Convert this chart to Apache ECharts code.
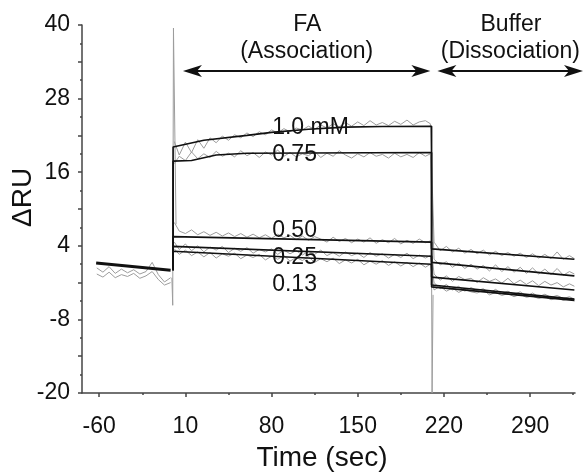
<!DOCTYPE html>
<html>
<head>
<meta charset="utf-8">
<script src="https://cdn.jsdelivr.net/npm/echarts@6/dist/echarts.min.js"></script>
<style>
  html, body { margin: 0; padding: 0; background: #fff; }
  #chart { width: 584px; height: 472px; }
</style>
</head>
<body>
<div id="chart"></div>
<script>
// ticks
var xLabelTicks = [-60, 10, 80, 150, 220, 290]
var xMinorTicks = [-25, 45, 115, 185, 255, 325]
var yLabelTicks = [-20, -8, 4, 16, 28, 40, -14, -2, 10, 22, 34]
var yLabelValues = [-20, -8, 4, 16, 28, 40]
var yMinorTicks = [-17, -11, -5, 1, 7, 13, 19, 25, 31, 37]

// sample times (sec)
var baseT = [-62, -57, -52, -47, -42, -37, -32, -27, -22, -17, -12, -7, -2]
var assocT = [1, 5, 10, 15, 20, 25, 30, 35, 40, 45, 50, 55, 60, 65, 70, 75, 80, 85, 90, 95, 100,
  105, 110, 115, 120, 125, 130, 135, 140, 145, 150, 155, 160, 165, 170, 175, 180, 185, 190, 195, 200, 205, 209]
var dissocT = [212, 217, 222, 227, 232, 237, 242, 247, 252, 257, 262, 267, 272, 277, 282, 287, 292, 297,
  302, 307, 312, 317, 322, 326]

// raw sensorgram (gray)
var baseRawA = [0.4, -0.3, 0.6, -0.5, 0.2, -0.4, 0.1, -0.6, -0.2, 1.3, -0.7, -1.9, -1.2]
var baseRawB = [-0.6, -1.1, -0.3, -1.2, -0.7, -1.0, -0.5, -1.3, -0.9, -0.2, -1.5, -2.4, -2.0]

var raw10A = [21.0, 18.8, 20.9, 19.2, 21.3, 19.9, 21.6, 20.8, 21.9, 21.2, 22.1, 21.6, 22.4, 21.8, 22.6, 22.1,
  22.9, 22.4, 23.1, 22.6, 23.2, 22.9, 23.5, 23.0, 23.7, 23.2, 23.9, 23.4, 24.1, 23.5, 24.2, 23.6, 24.4, 23.7,
  24.1, 23.6, 24.3, 23.8, 24.5, 23.7, 24.2, 24.4, 23.9]
var raw75A = [17.4, 18.6, 17.9, 19.3, 18.2, 19.0, 18.4, 19.4, 18.6, 19.1, 18.5, 19.5, 18.7, 19.2, 18.4, 19.3,
  18.8, 19.6, 18.6, 19.2, 18.5, 19.0, 18.7, 19.4, 18.4, 19.1, 18.6, 19.5, 18.8, 18.3, 19.0, 18.5, 19.2, 18.6,
  18.9, 18.3, 19.1, 18.5, 18.9, 18.4, 19.2, 18.6, 19.0]
var raw50A = [7.8, 6.4, 6.0, 6.6, 5.8, 6.3, 5.7, 6.2, 5.6, 6.1, 5.5, 6.0, 5.4, 5.9, 5.3, 5.8, 5.2, 5.9, 5.3,
  5.7, 5.0, 5.6, 4.9, 5.5, 5.1, 4.6, 5.4, 4.7, 5.2, 4.5, 5.1, 4.6, 5.3, 4.4, 5.0, 4.5, 5.2, 4.3, 4.9, 4.4,
  5.1, 4.5, 4.8]
var raw25A = [4.6, 3.4, 4.3, 3.2, 4.0, 3.0, 3.8, 3.3, 3.9, 2.9, 3.6, 3.1, 3.7, 2.8, 3.4, 3.0, 3.5, 2.6, 3.3,
  2.7, 3.2, 2.5, 3.1, 2.6, 3.3, 2.4, 2.9, 2.3, 3.0, 2.4, 2.8, 2.1, 2.9, 2.3, 2.7, 2.0, 2.6, 2.1, 2.8, 1.9,
  2.5, 2.0, 2.4]
var raw13A = [3.5, 2.6, 3.3, 2.4, 3.0, 2.2, 2.9, 2.0, 2.7, 2.3, 2.8, 1.9, 2.5, 2.1, 2.6, 1.7, 2.3, 1.8, 2.4,
  1.5, 2.1, 1.6, 2.2, 1.3, 1.9, 1.4, 2.0, 1.1, 1.7, 1.2, 1.8, 0.9, 1.5, 1.0, 1.6, 0.8, 1.4, 0.7, 1.3, 0.6,
  1.2, 0.5, 1.0]

var raw10D = [4.6, 3.2, 3.9, 3.0, 3.6, 2.8, 3.4, 2.7, 3.3, 2.5, 3.1, 2.4, 2.9, 2.3, 2.8, 2.1, 2.7, 2.0, 2.6,
  1.9, 3.0, 1.8, 2.4, 1.9]
var raw75D = [1.8, 0.9, 1.4, 0.5, 1.2, 0.3, 1.0, 0.2, 0.8, -0.1, 0.9, -0.2, 0.6, -0.3, 0.5, -0.5, 0.4, -0.6,
  0.2, -0.7, 0.3, -0.8, -0.2, -0.6]
var raw50D = [-0.6, -1.6, -0.9, -1.8, -1.0, -1.5, -1.3, -2.0, -1.2, -1.8, -1.4, -2.1, -1.3, -2.2, -1.6, -2.3,
  -1.7, -2.5, -1.8, -2.4, -2.0, -2.7, -2.2, -2.6]
var raw25D = [-2.0, -3.0, -2.3, -3.2, -2.6, -3.4, -2.8, -3.3, -3.0, -3.7, -3.1, -3.8, -3.4, -3.9, -3.5, -4.2,
  -3.7, -4.3, -3.9, -4.4, -4.1, -4.6, -4.3, -4.7]
var raw13D = [-3.2, -2.6, -3.4, -2.9, -3.6, -3.1, -3.5, -3.7, -3.2, -4.0, -3.6, -4.1, -3.8, -4.3, -3.9, -4.4,
  -4.2, -4.6, -4.3, -4.8, -4.5, -4.9, -4.6, -5.0]

// injection / buffer switch spikes
var injSpike = [[-1, -1.2], [-0.3, -5.7], [0.3, 39.5], [1.8, 39.2], [2.4, 7.5]]
var offSpike = [[209.6, 19.0], [210.4, -20], [211.2, -4.0]]

// fitted curves (black)
var baseFit = [[-62.5, 1.2], [-2, 0.0]]
var fit10 = [[0, 0], [0, 20.1], [25, 21.2], [60, 22.0], [80, 22.5], [110, 23.0], [140, 23.35], [170, 23.45],
  [210, 23.5], [210, 3.5], [326, 1.8]]
var fit75 = [[0, 0], [0, 17.8], [15, 17.9], [35, 18.8], [60, 19.1], [210, 19.2], [210, 1.3], [326, -0.9]]
var fit50 = [[0, 0], [0, 5.5], [210, 4.6], [210, -1.1], [326, -3.2]]
var fit25 = [[0, 0], [0, 3.9], [210, 2.3], [210, -2.4], [326, -4.7]]
var fit13 = [[0, 0], [0, 3.1], [210, 1.0], [210, -2.7], [326, -4.9]]

// concentration labels
var concNames = ['1.0 mM', '0.75', '0.50', '0.25', '0.13']
var concT = [80.5, 80.5, 80.5, 80.5, 80.5]
var concY = [23.3, 18.9, 6.5, 2.1, -2.3]

// phase annotations
var phaseText = ['FA', '(Association)', 'Buffer', '(Dissociation)']
var phaseT = [109, 108.5, 274.5, 274]
var phaseY = [40, 35.6, 40.1, 35.6]
var arrowSpans = [[8, 209], [214.7, 333]]
var arrowLevel = 32.5

// y axis title anchor (data coords, left of the axis)
var yTitle = 'ΔRU'
var yTitleAt = [-122, 11.9]

var font = 'Liberation Sans, Arial, sans-serif'
var ink = '#111'

function pairs (ts, vs) {
  return ts.map(function (t, i) { return [t, vs[i]] })
}

function rawLine (data) {
  return {
    type: 'line', data: data, symbol: 'none', silent: true, z: 2,
    lineStyle: { color: '#9c9c9c', width: 1 }
  }
}

function fitLine (data, w) {
  return {
    type: 'line', data: data, symbol: 'none', silent: true, z: 3,
    lineStyle: { color: ink, width: w || 1.6 }
  }
}

var series = [
  rawLine(pairs(baseT, baseRawA)),
  rawLine(pairs(baseT, baseRawB)),
  rawLine(injSpike),
  rawLine(pairs(assocT, raw10A).concat(pairs(dissocT, raw10D))),
  rawLine(pairs(assocT, raw75A).concat(pairs(dissocT, raw75D))),
  rawLine(pairs(assocT, raw50A).concat(pairs(dissocT, raw50D))),
  rawLine(pairs(assocT, raw25A).concat(pairs(dissocT, raw25D))),
  rawLine(pairs(assocT, raw13A).concat(pairs(dissocT, raw13D))),
  rawLine(offSpike),
  fitLine(baseFit, 3),
  fitLine(fit10),
  fitLine(fit75),
  fitLine(fit50),
  fitLine(fit25),
  fitLine(fit13),
  {
    type: 'scatter', symbolSize: 0, silent: true, z: 5,
    itemStyle: { opacity: 1 },
    data: concNames.map(function (n, i) { return { name: n, value: [concT[i], concY[i]] } }),
    label: {
      show: true, position: 'right', distance: 0, align: 'left', verticalAlign: 'middle',
      formatter: '{b}', fontSize: 23, color: ink, opacity: 1, textBorderWidth: 0, fontFamily: font
    }
  }
]

var axisColor = '#444'
var xRange = { min: -74, max: 326.5 }
var yRange = { min: -20, max: 40 }

var option = {
  animation: false,
  grid: { left: 82, right: 9, top: 25, bottom: 79, outerBoundsMode: 'none', containLabel: false },
  xAxis: [
    {
      type: 'value', min: xRange.min, max: xRange.max,
      axisLine: { onZero: false, lineStyle: { color: axisColor, width: 1.5 } },
      axisTick: { customValues: xLabelTicks, length: 4, lineStyle: { color: axisColor, width: 1.5 } },
      axisLabel: { customValues: xLabelTicks, margin: 22, fontSize: 23, color: ink, fontFamily: font },
      splitLine: { show: false },
      name: 'Time (sec)', nameLocation: 'middle', nameGap: 51,
      nameTextStyle: { fontSize: 28, color: ink, fontFamily: font, padding: [0, 13, 0, 0] }
    },
    {
      type: 'value', position: 'bottom', min: xRange.min, max: xRange.max,
      axisLine: { show: false, onZero: false },
      axisTick: { customValues: xMinorTicks, length: 2, lineStyle: { color: axisColor, width: 1.5 } },
      axisLabel: { show: false },
      splitLine: { show: false }
    }
  ],
  yAxis: [
    {
      type: 'value', min: yRange.min, max: yRange.max,
      axisLine: { show: true, onZero: false, lineStyle: { color: axisColor, width: 1.5 } },
      axisTick: { show: true, customValues: yLabelTicks, length: 4, lineStyle: { color: axisColor, width: 1.5 } },
      axisLabel: { customValues: yLabelValues, margin: 12, fontSize: 23, color: ink, fontFamily: font },
      splitLine: { show: false }
    },
    {
      type: 'value', position: 'left', min: yRange.min, max: yRange.max,
      axisLine: { show: false, onZero: false },
      axisTick: { show: true, customValues: yMinorTicks, length: 2, lineStyle: { color: axisColor, width: 1.5 } },
      axisLabel: { show: false },
      splitLine: { show: false }
    }
  ],
  series: series
}

var chart = echarts.init(document.getElementById('chart'))
chart.setOption(option)

// phase arrows and captions, placed from data coordinates
function px (t, v) {
  return chart.convertToPixel({ xAxisIndex: 0, yAxisIndex: 0 }, [t, v])
}

var graphics = []
arrowSpans.forEach(function (span) {
  var a = px(span[0], arrowLevel)
  var b = px(span[1], arrowLevel)
  var y = a[1]
  graphics.push({
    type: 'line', silent: true,
    shape: { x1: a[0] + 12, y1: y, x2: b[0] - 12, y2: y },
    style: { stroke: ink, lineWidth: 2 }
  })
  graphics.push({
    type: 'polygon', silent: true,
    shape: { points: [[a[0], y], [a[0] + 19, y - 6], [a[0] + 14, y], [a[0] + 19, y + 6]] },
    style: { fill: ink }
  })
  graphics.push({
    type: 'polygon', silent: true,
    shape: { points: [[b[0], y], [b[0] - 19, y - 6], [b[0] - 14, y], [b[0] - 19, y + 6]] },
    style: { fill: ink }
  })
})
phaseText.forEach(function (txt, i) {
  var p = px(phaseT[i], phaseY[i])
  graphics.push({
    type: 'text', silent: true, x: p[0], y: p[1],
    style: {
      text: txt, fontSize: 23, fontFamily: font, fill: ink,
      align: 'center', verticalAlign: 'middle'
    }
  })
})
var yt = px(yTitleAt[0], yTitleAt[1])
graphics.push({
  type: 'text', silent: true, x: yt[0], y: yt[1], rotation: Math.PI / 2,
  style: {
    text: yTitle, fontSize: 28, fontFamily: font, fill: ink,
    align: 'center', verticalAlign: 'middle'
  }
})
chart.setOption({ graphic: graphics })
</script>
</body>
</html>
